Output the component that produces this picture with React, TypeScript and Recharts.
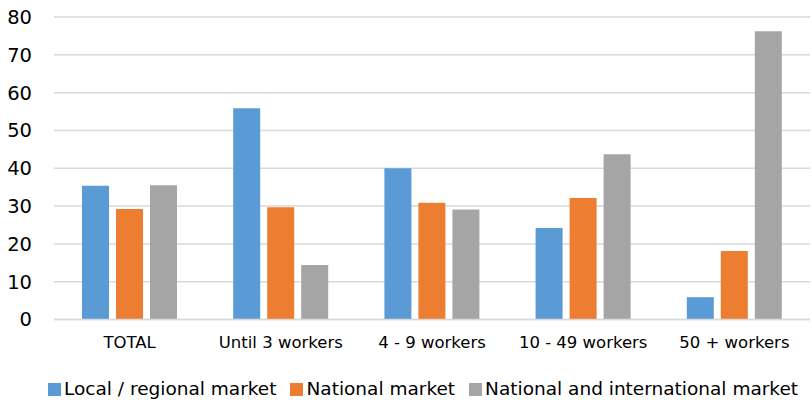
import React from "react";
import { BarChart, Bar, XAxis, YAxis, CartesianGrid, Legend } from "recharts";

const categories = ["TOTAL", "Until 3 workers", "4 - 9 workers", "10 - 49 workers", "50 + workers"];
const localRegional = [35.4, 55.9, 40.0, 24.2, 5.9];
const nationalMarket = [29.2, 29.7, 30.9, 32.1, 18.1];
const nationalInternational = [35.5, 14.4, 29.1, 43.7, 76.2];
const yTicks = [0, 10, 20, 30, 40, 50, 60, 70, 80];

const seriesNames = ["Local / regional market", "National market", "National and international market"];
const seriesKeys = ["local", "national", "intl"];
const seriesColors = ["#5B9BD5", "#ED7D31", "#A5A5A5"];

const data = categories.map((c, i) => ({
  name: c,
  local: localRegional[i],
  national: nationalMarket[i],
  intl: nationalInternational[i],
}));

const FONT = "'DejaVu Sans', sans-serif";

const LegendContent = () => (
  <div
    style={{
      display: "flex",
      alignItems: "center",
      paddingLeft: 48,
      height: 28,
      fontFamily: FONT,
      fontSize: 18.5,
      color: "#000",
      whiteSpace: "nowrap",
    }}
  >
    {seriesNames.map((n, i) => (
      <div key={n} style={{ display: "flex", alignItems: "center", marginRight: 14 }}>
        <span style={{ display: "inline-block", width: 13, height: 13, background: seriesColors[i], marginRight: 3 }} />
        <span style={{ lineHeight: "28px" }}>{n}</span>
      </div>
    ))}
  </div>
);

export default function App() {
  return (
    <div style={{ position: "absolute", left: 0, top: 0, width: 812, height: 400, background: "#fff" }}>
      <BarChart
        width={812}
        height={400}
        data={data}
        margin={{ top: 17, right: 2, left: 0, bottom: 22.5 }}
        barCategoryGap={28}
        barGap={7}
      >
        <CartesianGrid vertical={false} stroke="#d9d9d9" strokeWidth={1.5} />
        <XAxis
          dataKey="name"
          height={30}
          tickLine={false}
          tickSize={0}
          tickMargin={17}
          axisLine={{ stroke: "#d9d9d9", strokeWidth: 1.5 }}
          tick={{ fontFamily: FONT, fontSize: 16.5, fill: "#000" }}
          interval={0}
        />
        <YAxis
          width={54}
          domain={[0, 80]}
          ticks={yTicks}
          axisLine={false}
          tickLine={false}
          tickSize={0}
          tickMargin={22}
          tick={{ fontFamily: FONT, fontSize: 19.5, fill: "#000" }}
        />
        <Legend
          verticalAlign="bottom"
          content={<LegendContent />}
          wrapperStyle={{ top: 375, left: 0, width: 812, height: 28 }}
        />
        {seriesKeys.map((k, i) => (
          <Bar key={k} dataKey={k} name={seriesNames[i]} fill={seriesColors[i]} barSize={27} isAnimationActive={false} />
        ))}
      </BarChart>
    </div>
  );
}
